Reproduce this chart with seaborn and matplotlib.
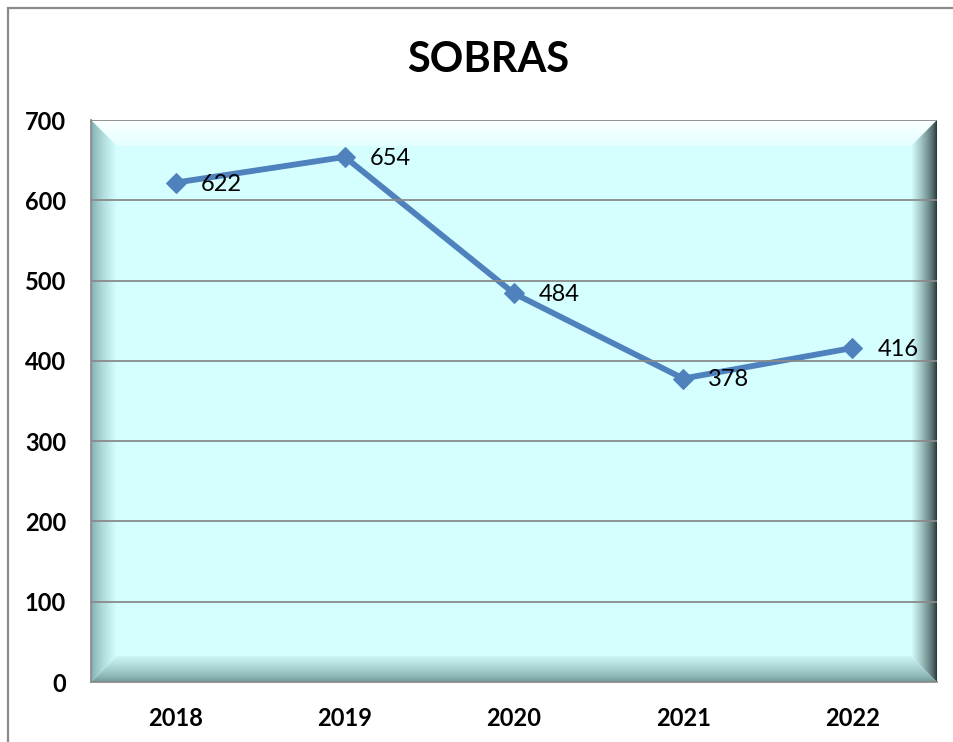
import numpy as np
import pandas as pd
import matplotlib
matplotlib.use("Agg")
import matplotlib.pyplot as plt
from matplotlib.patches import Polygon, Rectangle
import seaborn as sns

# data
anos = ["2018", "2019", "2020", "2021", "2022"]
sobras = [622, 654, 484, 378, 416]
y_ticks = [0, 100, 200, 300, 400, 500, 600, 700]

df = pd.DataFrame({"ano": anos, "sobras": sobras})

sns.set_style("white")
plt.rcParams["font.family"] = ["Lato", "DejaVu Sans"]
plt.rcParams["text.color"] = "black"

W_PX, H_PX = 954, 742
fig = plt.figure(figsize=(W_PX / 100, H_PX / 100), dpi=100)

# plot area in pixels (left, right, top, bottom)
L, R, T, B = 91, 937, 120, 682
pos = [L / W_PX, 1 - B / H_PX, (R - L) / W_PX, (B - T) / H_PX]

# background with bevelled edges
bg = fig.add_axes(pos, zorder=0)
W, H, b = R - L, B - T, 26
bg.set_xlim(0, W)
bg.set_ylim(0, H)
bg.axis("off")
base = np.array([0.835, 1.0, 1.0])
bg.add_patch(Rectangle((0, 0), W, H, color=base, zorder=0))


def bevel(poly, extent, c_edge, c_inner, side):
    # gradient from the outer edge (index 0) towards the inside
    n = 64
    t = np.linspace(0, 1, n) ** 0.7
    cols = np.array(c_edge)[None, :] * (1 - t[:, None]) + np.array(c_inner)[None, :] * t[:, None]
    if side == "left":
        img = cols[None, :, :]
    elif side == "right":
        img = cols[None, ::-1, :]
    elif side == "bottom":
        img = cols[::-1][:, None, :]
    else:
        img = cols[:, None, :]
    patch = Polygon(poly, closed=True, facecolor="none", edgecolor="none")
    bg.add_patch(patch)
    im = bg.imshow(img, extent=extent, origin="upper", aspect="auto", zorder=1,
                   interpolation="bilinear")
    im.set_clip_path(patch)


bevel([(0, H), (W, H), (W - b, H - b), (b, H - b)], (0, W, H - b, H),
      (1.0, 1.0, 1.0), (0.9, 1.0, 1.0), "top")
bevel([(0, 0), (W, 0), (W - b, b), (b, b)], (0, W, 0, b),
      (0.42, 0.58, 0.58), (0.8, 0.96, 0.96), "bottom")
bevel([(0, 0), (b, b), (b, H - b), (0, H)], (0, b, 0, H),
      (0.48, 0.66, 0.66), base, "left")
bevel([(W, 0), (W, H), (W - b, H - b), (W - b, b)], (W - b, W, 0, H),
      (0.13, 0.2, 0.2), base, "right")

# main axes
ax = fig.add_axes(pos, zorder=1)
ax.patch.set_alpha(0)

cor = "#4F81BD"
sns.lineplot(data=df, x="ano", y="sobras", ax=ax, color=cor, linewidth=4.2,
             marker="D", markersize=10, markeredgecolor=cor, sort=False)

for i, v in enumerate(sobras):
    ax.annotate(str(v), (i, v), xytext=(18, -1), textcoords="offset points",
                ha="left", va="center", fontsize=17, color="black")

ax.set_xlim(-0.5, len(anos) - 0.5)
ax.set_ylim(0, 700)
ax.set_yticks(y_ticks)
ax.set_yticklabels([str(t) for t in y_ticks], fontsize=17, fontweight="bold")
ax.set_xticks(range(len(anos)))
ax.set_xticklabels(anos, fontsize=17, fontweight="bold")
ax.set_xticks(np.arange(-0.5, len(anos)), minor=True)
ax.tick_params(axis="x", which="major", length=0, pad=18, labelcolor="black")
ax.tick_params(axis="x", which="minor", length=6, width=1.3, color="#8c8c8c")
ax.tick_params(axis="y", which="major", length=6, width=1.3, color="#8c8c8c", pad=12,
               labelcolor="black")
ax.set_xlabel("")
ax.set_ylabel("")
ax.grid(axis="y", color="#8a8a8a", linewidth=1.3)
ax.set_axisbelow(False)
for s in ["top", "right"]:
    ax.spines[s].set_visible(False)
for s in ["left", "bottom"]:
    ax.spines[s].set_color("#8c8c8c")
    ax.spines[s].set_linewidth(1.3)

fig.text(488 / W_PX, 1 - 60 / H_PX, "SOBRAS", ha="center", va="center",
         fontsize=30, fontweight="bold", color="black")

# outer frame
fig.add_artist(Rectangle((8 / W_PX, -0.1), 1.2, 1.1 - 8 / H_PX, transform=fig.transFigure,
                         fill=False, edgecolor="#8a8a8a", linewidth=1.6))

fig.savefig("out.png", dpi=100)
